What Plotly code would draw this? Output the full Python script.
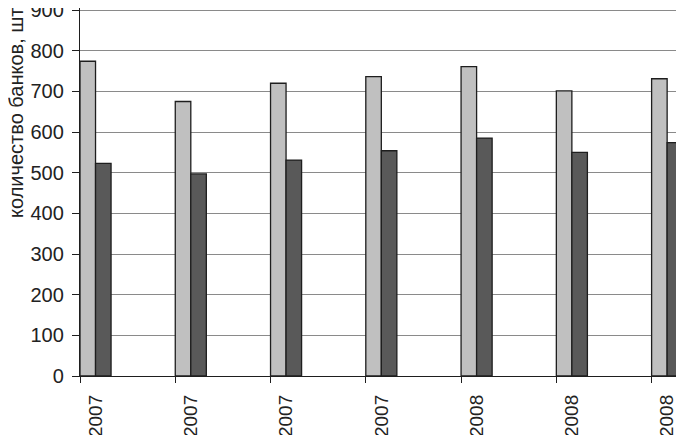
import plotly.graph_objects as go

years = ["2007", "2007", "2007", "2007", "2008", "2008", "2008"]
banks_total = [774, 675, 720, 736, 761, 701, 731]
banks_other = [523, 497, 531, 554, 585, 550, 574]

slot = list(range(len(years)))
bw = 0.163  # bar width in category units
label_pos = [k + bw for k in slot]

fig = go.Figure()
fig.add_trace(go.Bar(
    x=slot, y=banks_total, width=bw, offset=0,
    marker=dict(color="#c0c0c0", line=dict(color="#1e1e1e", width=1.3)),
    showlegend=False,
))
fig.add_trace(go.Bar(
    x=label_pos, y=banks_other, width=bw, offset=0,
    xaxis="x2",
    marker=dict(color="#595959", line=dict(color="#1e1e1e", width=1.3)),
    showlegend=False,
))

# page body adds an 8px margin, so the figure is pulled up/left by 8px
font = "Liberation Sans, Arial, sans-serif"
fig.update_layout(
    width=684, height=435,
    margin=dict(l=72, r=8, t=0, b=67),
    plot_bgcolor="white", paper_bgcolor="white",
    barmode="overlay",
    font=dict(family=font, color="#222222", size=20),
    xaxis=dict(
        range=[0, 6.34], tickvals=slot, ticktext=[""] * len(slot),
        ticks="outside", ticklen=6, tickcolor="#1e1e1e",
        showline=True, linecolor="#1e1e1e", linewidth=1.3,
        showgrid=False, zeroline=False, automargin=False,
    ),
    xaxis2=dict(
        overlaying="x", matches="x", anchor="y", side="bottom",
        tickvals=label_pos, ticktext=years, tickangle=-90,
        tickfont=dict(size=19), ticks="", ticklabelstandoff=14,
        showline=False, showgrid=False, zeroline=False, automargin=False,
    ),
    yaxis=dict(
        range=[0, 905], tickvals=list(range(0, 1000, 100)),
        ticks="outside", ticklen=7, tickcolor="#1e1e1e",
        showline=True, linecolor="#1e1e1e", linewidth=1.3,
        showgrid=True, gridcolor="#8a8a8a", gridwidth=1,
        zeroline=False, ticklabelstandoff=4, automargin=False,
        ticklabeloverflow="allow",
    ),
    annotations=[dict(
        text="количество банков, шт.", textangle=-90,
        xref="paper", yref="paper", x=-0.107, y=0.425,
        xanchor="center", yanchor="bottom", showarrow=False,
        font=dict(size=20),
    )],
)

fig.write_html("out.html")
